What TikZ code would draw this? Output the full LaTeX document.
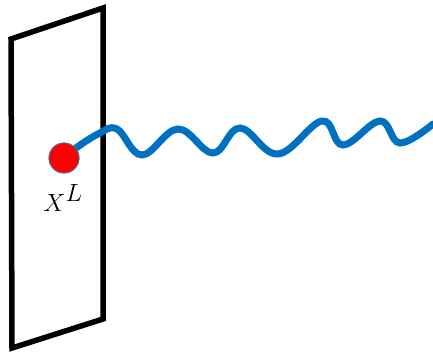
\documentclass[tikz,border=0pt]{standalone}
\usepackage{xcolor}
\definecolor{waveblue}{HTML}{0070C0}
\definecolor{dotedge}{HTML}{41719C}
\tikzset{
  panel/.style={line width=5.5pt, black, line join=miter},
  wave/.style={line width=7pt, waveblue, line cap=round},
  dotnode/.style={circle, fill=red, draw=dotedge, line width=0.8pt, minimum size=30pt, inner sep=0pt},
  lbl/.style={font=\fontsize{34}{38}\selectfont, inner sep=0pt}
}
\begin{document}
\begin{tikzpicture}[x=1pt,y=-1pt]
\useasboundingbox (0,0) rectangle (433,354);
\coordinate (p1) at (11,39);
\coordinate (p2) at (103,8);
\coordinate (p3) at (103,319);
\coordinate (p4) at (12,348);
\draw[panel] (p1) -- (p2) -- (p3) -- (p4) -- cycle;
\node[dotnode] (dot) at (64,158) {};
\coordinate (s) at (dot.40);
\coordinate (e) at (433,124);
\draw[wave] plot[smooth, tension=0.65] coordinates {
  (s) (98,134) (117,129) (142,155) (178,129) (213,153) (240,128)
  (278,154) (322,121) (343,145) (380,121) (400,143) (e)};
\node[dotnode] at (dot) {};
\node[lbl, anchor=base] (xl) at (63,211) {$X^L$};
\end{tikzpicture}
\end{document}
